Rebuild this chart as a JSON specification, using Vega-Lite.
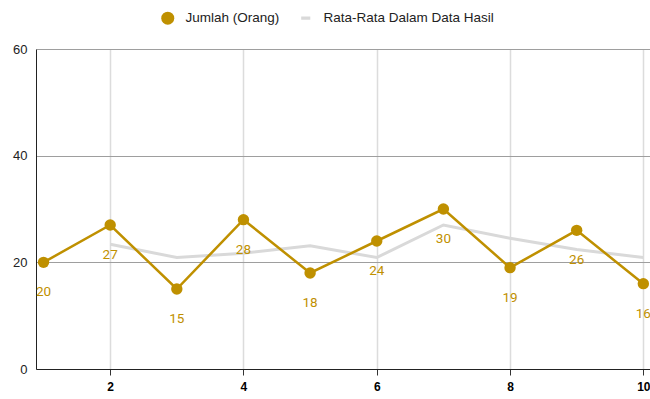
{
  "$schema": "https://vega.github.io/schema/vega-lite/v6.json",
  "width": 614,
  "height": 320,
  "autosize": {"type": "none"},
  "padding": {"left": 36, "top": 49, "right": 0, "bottom": 30},
  "config": {"view": {"stroke": null}, "font": "Liberation Sans"},
  "data": {
    "values": [
      {"x": 1, "y": 20, "series": "Jumlah (Orang)"},
      {"x": 2, "y": 27, "series": "Jumlah (Orang)"},
      {"x": 3, "y": 15, "series": "Jumlah (Orang)"},
      {"x": 4, "y": 28, "series": "Jumlah (Orang)"},
      {"x": 5, "y": 18, "series": "Jumlah (Orang)"},
      {"x": 6, "y": 24, "series": "Jumlah (Orang)"},
      {"x": 7, "y": 30, "series": "Jumlah (Orang)"},
      {"x": 8, "y": 19, "series": "Jumlah (Orang)"},
      {"x": 9, "y": 26, "series": "Jumlah (Orang)"},
      {"x": 10, "y": 16, "series": "Jumlah (Orang)"},
      {"x": 2, "y": 23.4, "series": "Rata-Rata Dalam Data Hasil"},
      {"x": 3, "y": 20.9, "series": "Rata-Rata Dalam Data Hasil"},
      {"x": 4, "y": 21.7, "series": "Rata-Rata Dalam Data Hasil"},
      {"x": 5, "y": 23.1, "series": "Rata-Rata Dalam Data Hasil"},
      {"x": 6, "y": 20.9, "series": "Rata-Rata Dalam Data Hasil"},
      {"x": 7, "y": 27, "series": "Rata-Rata Dalam Data Hasil"},
      {"x": 8, "y": 24.5, "series": "Rata-Rata Dalam Data Hasil"},
      {"x": 9, "y": 22.4, "series": "Rata-Rata Dalam Data Hasil"},
      {"x": 10, "y": 20.9, "series": "Rata-Rata Dalam Data Hasil"}
    ]
  },
  "encoding": {
    "x": {
      "field": "x", "type": "quantitative",
      "scale": {"domain": [0.887, 10.1], "nice": false, "zero": false},
      "axis": {
        "title": null, "values": [2, 4, 6, 8, 10],
        "labelFontWeight": "bold", "labelFontSize": 12, "labelColor": "#000",
        "labelPadding": 6, "tickSize": 6, "tickColor": "#333",
        "domainColor": "#222", "gridColor": "#dcdcdc", "gridWidth": 1.5
      }
    },
    "y": {
      "field": "y", "type": "quantitative",
      "scale": {"domain": [0, 60], "nice": false},
      "axis": {
        "title": null, "values": [0, 20, 40, 60], "ticks": false,
        "labelFontSize": 13, "labelColor": "#222", "labelPadding": 9,
        "domainColor": "#222", "gridColor": "#9e9e9e", "gridWidth": 1
      }
    },
    "color": {
      "field": "series", "type": "nominal",
      "scale": {"domain": ["Jumlah (Orang)", "Rata-Rata Dalam Data Hasil"], "range": ["#bf9000", "#d9d9d9"]},
      "legend": {
        "orient": "none", "legendX": 125, "legendY": -38, "direction": "horizontal",
        "title": null, "labelFontSize": 13.5, "labelColor": "#222", "symbolSize": 169,
        "columnPadding": 19, "labelOffset": 11, "symbolStrokeWidth": 0, "labelLimit": 400
      }
    }
  },
  "layer": [
    {
      "transform": [{"filter": "datum.series === 'Rata-Rata Dalam Data Hasil'"}],
      "mark": {"type": "line", "strokeWidth": 3}
    },
    {
      "transform": [{"filter": "datum.series === 'Jumlah (Orang)'"}],
      "mark": {"type": "line", "strokeWidth": 2.5}
    },
    {
      "transform": [{"filter": "datum.series === 'Jumlah (Orang)'"}],
      "mark": {"type": "point", "filled": true, "opacity": 1, "size": 130},
      "encoding": {
        "shape": {
          "field": "series", "type": "nominal",
          "scale": {"domain": ["Jumlah (Orang)", "Rata-Rata Dalam Data Hasil"], "range": ["circle", "M-0.7,-0.25H0.7V0.25H-0.7Z"]},
          "legend": {
            "orient": "none", "legendX": 125, "legendY": -38, "direction": "horizontal",
            "title": null, "labelFontSize": 13.5, "labelColor": "#222", "symbolSize": 169,
            "columnPadding": 19, "labelOffset": 11, "symbolStrokeWidth": 0, "labelLimit": 400
          }
        }
      }
    },
    {
      "transform": [{"filter": "datum.series === 'Jumlah (Orang)'"}],
      "mark": {"type": "text", "dy": 30, "baseline": "middle", "font": "Roboto", "fontSize": 13.5, "color": "#bf9000"},
      "encoding": {"text": {"field": "y", "type": "quantitative"}, "color": {"value": "#bf9000"}}
    }
  ]
}
